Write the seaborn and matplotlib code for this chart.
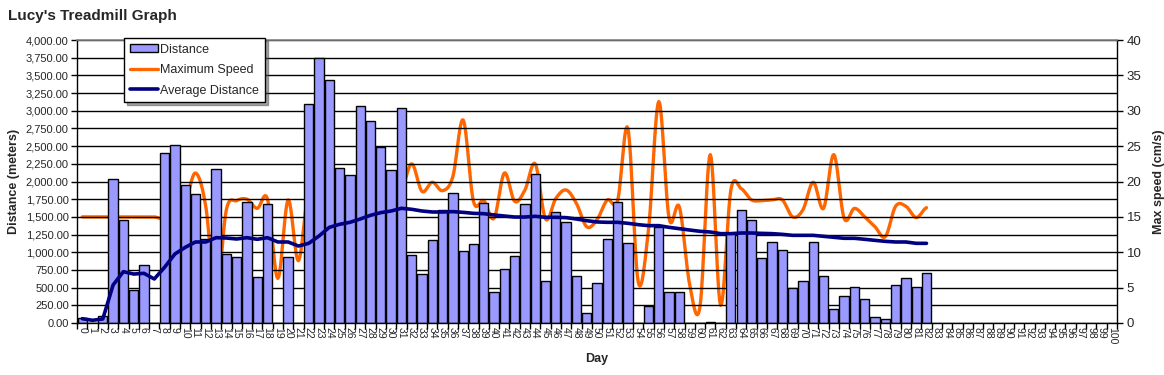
import numpy as np
import pandas as pd
import matplotlib
matplotlib.use("Agg")
import matplotlib.pyplot as plt
import seaborn as sns
from matplotlib.ticker import FixedLocator, FuncFormatter
from matplotlib.patches import Patch
from matplotlib.lines import Line2D

# ---------------- data ----------------
days = list(range(0, 83))
all_days = list(range(0, 101))

distance = [75, 0, 100, 2030, 1450, 460, 815, 0, 2398, 2511,
            1946, 1828, 1192, 2172, 971, 938, 1715, 645, 1677, 0,
            938, 0, 3100, 3750, 3440, 2186, 2087, 3062, 2850, 2483,
            2158, 3034, 956, 688, 1168, 1592, 1833, 1018, 1112, 1696,
            433, 763, 942, 1682, 2101, 589, 1564, 1423, 660, 137,
            561, 1183, 1706, 1126, 0, 240, 1357, 433, 433, 0,
            0, 15, 0, 1270, 1592, 1451, 914, 1140, 1027, 490,
            589, 1140, 660, 193, 377, 504, 334, 80, 52, 532,
            631, 504, 702]

max_speed = [15.0, 15.0, 15.0, 15.0, 15.0, 15.0, 15.0, 15.0, 14.9, 17.5,
             17.2, 21.2, 16.5, 3.9, 16.0, 17.3, 17.5, 16.2, 17.5, 6.3,
             17.4, 8.8, 19.0, 18.8, 18.8, 18.9, 17.3, 18.8, 17.2, 17.2,
             17.3, 18.6, 22.5, 18.6, 19.9, 18.7, 20.7, 28.7, 17.2, 17.3,
             14.8, 21.2, 17.2, 18.8, 22.5, 14.7, 17.6, 18.8, 16.9, 13.6,
             14.6, 17.4, 17.3, 27.5, 5.8, 13.2, 31.3, 14.8, 16.4, 5.4,
             2.3, 23.8, 2.5, 18.8, 19.0, 17.4, 17.3, 17.4, 17.4, 15.0,
             16.0, 19.9, 16.2, 23.8, 14.8, 16.2, 15.0, 13.6, 12.2, 16.5,
             16.5, 14.9, 16.3]

avg_distance = [61, 38, 57, 537, 726, 692, 702, 622, 787, 975,
                1069, 1145, 1145, 1206, 1201, 1187, 1206, 1183, 1206, 1145,
                1145, 1088, 1126, 1230, 1352, 1395, 1423, 1470, 1522, 1560,
                1583, 1621, 1607, 1583, 1569, 1569, 1574, 1564, 1550, 1545,
                1527, 1512, 1498, 1498, 1508, 1494, 1494, 1489, 1470, 1446,
                1428, 1423, 1423, 1409, 1390, 1376, 1376, 1352, 1333, 1314,
                1296, 1286, 1263, 1263, 1272, 1272, 1267, 1263, 1253, 1239,
                1239, 1239, 1225, 1211, 1197, 1197, 1183, 1168, 1154, 1145,
                1145, 1126, 1126]

left_ticks = list(range(0, 4001, 250))
right_ticks = list(range(0, 41, 5))

# ---------------- style ----------------
sns.set_theme(style="white")
plt.rcParams["font.family"] = ["Liberation Sans", "DejaVu Sans"]

BAR_COLOR = "#9999FF"
ORANGE = "#FF6600"
NAVY = "#000080"

fig = plt.figure(figsize=(11.64, 3.75), dpi=100)
ax = fig.add_axes([0.0662, 0.1387, 0.8934, 0.7546])

df = pd.DataFrame({"Day": days, "Distance": distance})
sns.barplot(data=df, x="Day", y="Distance", order=all_days, color=BAR_COLOR,
            saturation=1, edgecolor="black", linewidth=1.0, width=0.9,
            ax=ax, zorder=2)

# average distance line (left axis)
sns.lineplot(x=days, y=avg_distance, ax=ax, color=NAVY, linewidth=2.6,
             zorder=4, legend=False)

ax.set_xlim(-0.5, 100.5)
ax.set_ylim(0, 4000)
ax.yaxis.set_major_locator(FixedLocator(left_ticks))
ax.yaxis.set_major_formatter(FuncFormatter(lambda v, p: f"{v:,.2f}"))
ax.grid(axis="y", color="black", linewidth=1.0, zorder=0)
ax.set_axisbelow(True)

ax.set_xticks(all_days)
ax.set_xticklabels([str(d) for d in all_days], rotation=270, fontsize=7.5)
ax.xaxis.set_minor_locator(FixedLocator([d - 0.5 for d in all_days] + [100.5]))
ax.tick_params(axis="x", which="major", length=0, pad=3)
ax.tick_params(axis="x", which="minor", length=4, width=1, color="black", bottom=True)
ax.tick_params(axis="y", which="major", length=4, width=1, color="black", left=True,
               labelsize=8, pad=2)

ax.set_xlabel("Day", fontweight="bold", fontsize=9, labelpad=6)
ax.set_ylabel("Distance (meters)", fontweight="bold", fontsize=9, labelpad=4)

for side in ["left", "bottom"]:
    ax.spines[side].set_color("black")
    ax.spines[side].set_linewidth(1.0)
ax.spines["top"].set_color("#808080")
ax.spines["top"].set_linewidth(1.2)
ax.spines["right"].set_visible(False)

# max speed (right axis), smoothed rendering like Excel
ax2 = ax.twinx()
x = np.array(days, dtype=float)
y = np.array(max_speed, dtype=float)
xs, ys = [], []
n = len(x)
for i in range(n - 1):
    p0 = y[i - 1] if i > 0 else y[i]
    p1, p2 = y[i], y[i + 1]
    p3 = y[i + 2] if i + 2 < n else y[i + 1]
    t = np.linspace(0, 1, 12, endpoint=(i == n - 2))
    seg = 0.5 * ((2 * p1) + (-p0 + p2) * t + (2 * p0 - 5 * p1 + 4 * p2 - p3) * t ** 2
                 + (-p0 + 3 * p1 - 3 * p2 + p3) * t ** 3)
    xs.extend(x[i] + t)
    ys.extend(seg)
sns.lineplot(x=np.array(xs), y=np.array(ys), ax=ax2, color=ORANGE, linewidth=2.4,
             sort=False, zorder=3, legend=False)
ax2.set_ylim(0, 40)
ax2.yaxis.set_major_locator(FixedLocator(right_ticks))
ax2.tick_params(axis="y", which="major", length=4, width=1, color="black", right=True,
                labelsize=9.5, pad=3)
ax2.set_ylabel("Max speed (cm/s)", fontweight="bold", fontsize=9, labelpad=8)
ax2.spines["right"].set_color("black")
ax2.spines["right"].set_linewidth(1.0)
for s in ["top", "left", "bottom"]:
    ax2.spines[s].set_visible(False)
ax2.grid(False)

# bring navy line above the orange one
ax.set_zorder(ax2.get_zorder() + 1)
ax.patch.set_visible(False)

handles = [Patch(facecolor=BAR_COLOR, edgecolor="black", linewidth=1.0),
           Line2D([0], [0], color=ORANGE, linewidth=2.4),
           Line2D([0], [0], color=NAVY, linewidth=2.6)]
labels = ["Distance", "Maximum Speed", "Average Distance"]
leg = ax.legend(handles, labels, loc="upper left",
                bbox_to_anchor=(124 / 1164, 1 - 38 / 375),
                bbox_transform=fig.transFigure, fontsize=9,
                frameon=True, fancybox=False, shadow=True, edgecolor="black",
                framealpha=1, borderpad=0.45, labelspacing=0.68,
                handlelength=2.3, handleheight=0.6, handletextpad=0.15,
                borderaxespad=0)
leg.get_frame().set_linewidth(1.0)
leg.set_zorder(10)

fig.text(8 / 1164, 1 - 16 / 375, "Lucy's Treadmill Graph", fontweight="bold",
         fontsize=11, va="center", ha="left")

fig.savefig("out.png", dpi=100)
